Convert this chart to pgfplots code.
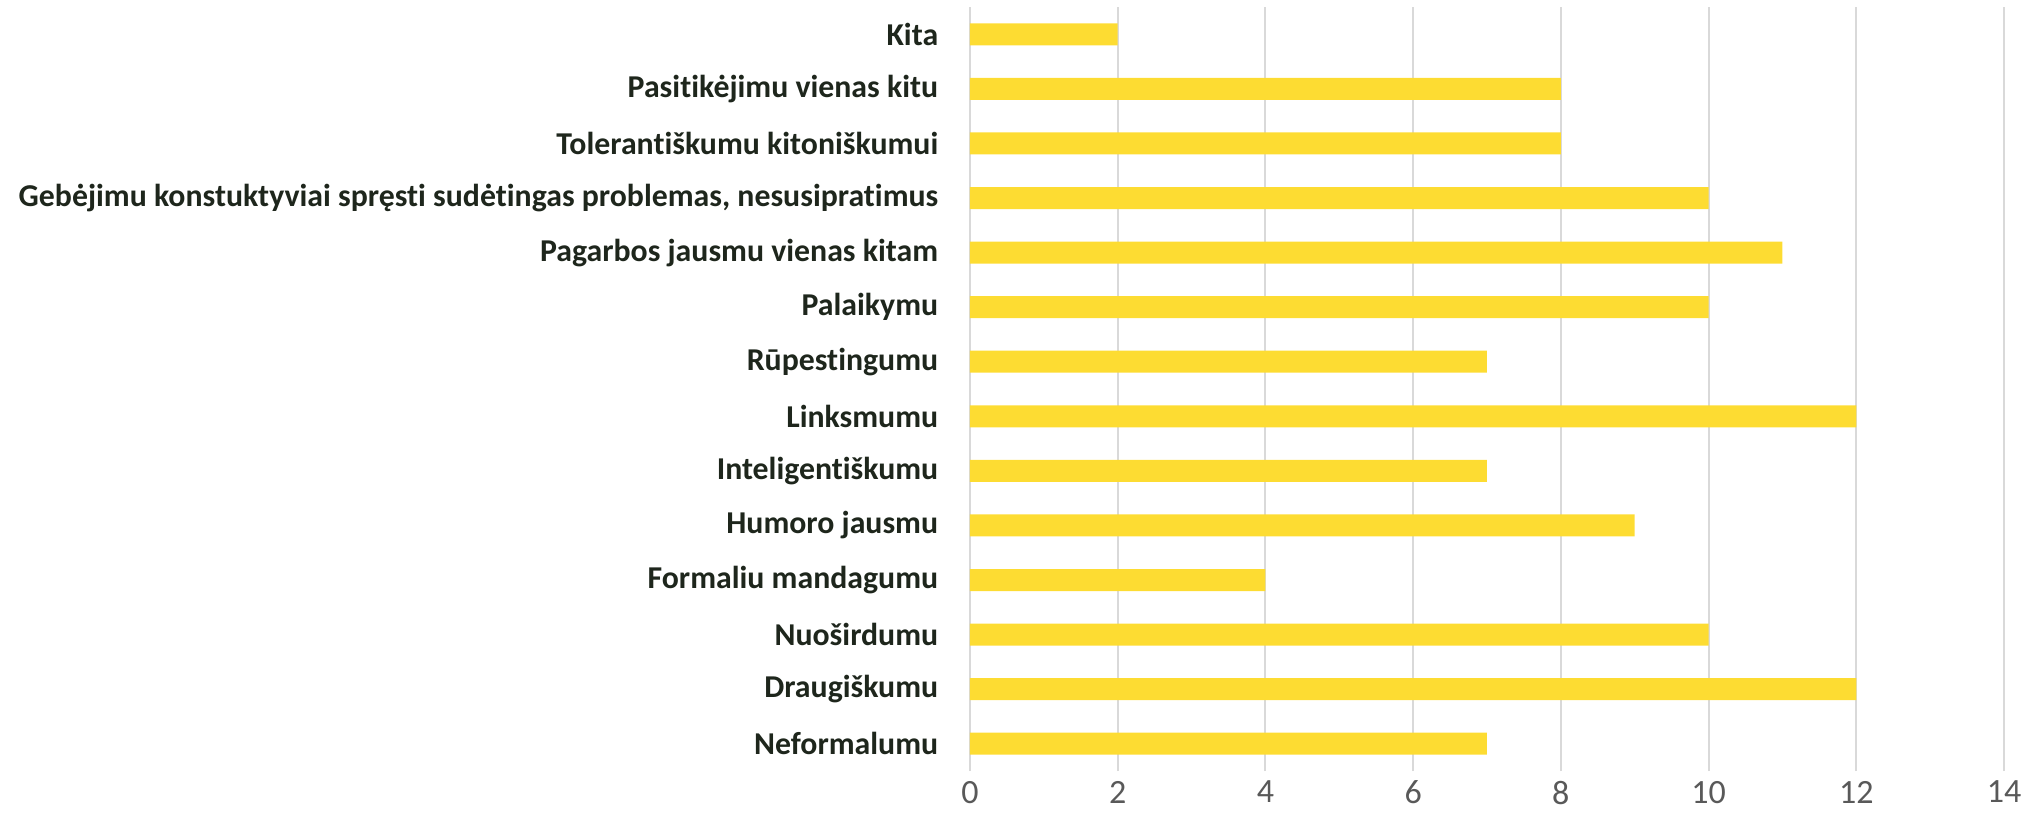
\documentclass[border=0pt]{standalone}
\usepackage{fontspec}
\setmainfont[Ligatures=NoCommon]{Carlito}
\usepackage{pgfplots}
\pgfplotsset{compat=1.18}
\definecolor{baryellow}{HTML}{FDDC32}
\definecolor{gridgray}{HTML}{D9D9D9}
\definecolor{ticktext}{HTML}{595959}
\definecolor{labeltext}{HTML}{1E261C}
\begin{document}
\begin{tikzpicture}
% fixed page size: 1px = 0.25pt of the 2033x826 reference
\path[use as bounding box] (-242.5pt,-13.75pt) rectangle (265.75pt,192.75pt);
\begin{axis}[
 at={(0,0)}, anchor=south west,
 scale only axis,
 width=258.5pt, height=191pt,
 xbar, bar width=5.5pt,
 xmin=0, xmax=14, xtick={0,2,...,14},
 ymin=-0.5, ymax=13.5,
 ytick={0,...,13},
 yticklabels={Neformalumu, Draugiškumu, Nuoširdumu, Formaliu mandagumu,
  Humoro jausmu, Inteligentiškumu, Linksmumu, Rūpestingumu, Palaikymu,
  Pagarbos jausmu vienas kitam,
  {Gebėjimu konstuktyviai spręsti sudėtingas problemas, nesusipratimus},
  Tolerantiškumu kitoniškumui, Pasitikėjimu vienas kitu, Kita},
 xmajorgrids, ymajorgrids=false,
 major grid style={draw=gridgray, line width=0.5pt},
 axis line style={draw=none},
 tick style={draw=none},
 major tick length=0pt,
 /pgf/number format/assume math mode=true,
 xticklabel style={font=\fontsize{8.5}{10}\selectfont, text=ticktext, inner sep=0pt, yshift=-2.3pt},
 yticklabel style={font=\fontsize{7.95}{9.5}\selectfont\bfseries, text=labeltext, inner sep=0pt, xshift=-7.75pt},
]
\addplot[fill=baryellow, draw=none] coordinates {
 (7,0) (12,1) (10,2) (4,3) (9,4) (7,5) (12,6) (7,7) (10,8) (11,9) (10,10) (8,11) (8,12) (2,13)
};
\end{axis}
\end{tikzpicture}
\end{document}
